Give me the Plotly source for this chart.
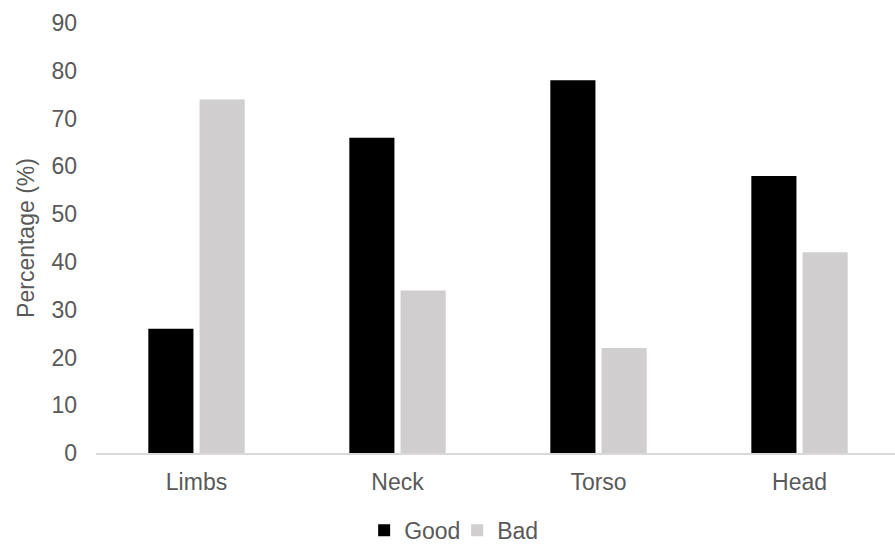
import plotly.graph_objects as go

# Survey results by body region
categories = ["Limbs", "Neck", "Torso", "Head"]
good_values = [26, 66, 78, 58]
bad_values = [74, 34, 22, 42]
y_ticks = [0, 10, 20, 30, 40, 50, 60, 70, 80, 90]

FONT = "Arial, 'Liberation Sans', sans-serif"
TEXT_COLOR = "#595959"

fig = go.Figure()
fig.add_trace(go.Bar(name="Good", x=categories, y=good_values,
                     marker=dict(color="#000000", line=dict(width=0))))
fig.add_trace(go.Bar(name="Bad", x=categories, y=bad_values,
                     marker=dict(color="#D0CECE", line=dict(width=0))))

fig.update_layout(
    width=895, height=548,
    margin=dict(l=96, r=0, t=23, b=95, autoexpand=False),
    plot_bgcolor="white", paper_bgcolor="white",
    font=dict(family=FONT, size=23, color=TEXT_COLOR),
    barmode="group", bargap=0.49, bargroupgap=0.12,
    showlegend=True,
    legend=dict(orientation="h", xanchor="center", yanchor="middle",
                x=0.452, y=-0.18, font=dict(size=23, color=TEXT_COLOR),
                itemwidth=30, tracegroupgap=0,
                entrywidth=48, entrywidthmode="pixels"),
)
fig.update_xaxes(
    range=[-0.5, 3.475], showgrid=False, zeroline=False,
    showline=True, linecolor="#D9D9D9", linewidth=1.5,
    ticks="", ticklabelstandoff=8,
)
fig.update_yaxes(
    range=[0, 90], tickvals=y_ticks, showgrid=False, zeroline=False,
    showline=False, ticks="", ticklabelstandoff=18,
    title=dict(text="Percentage (%)", standoff=10,
               font=dict(size=23, color=TEXT_COLOR)),
)

fig.write_html("out.html")
